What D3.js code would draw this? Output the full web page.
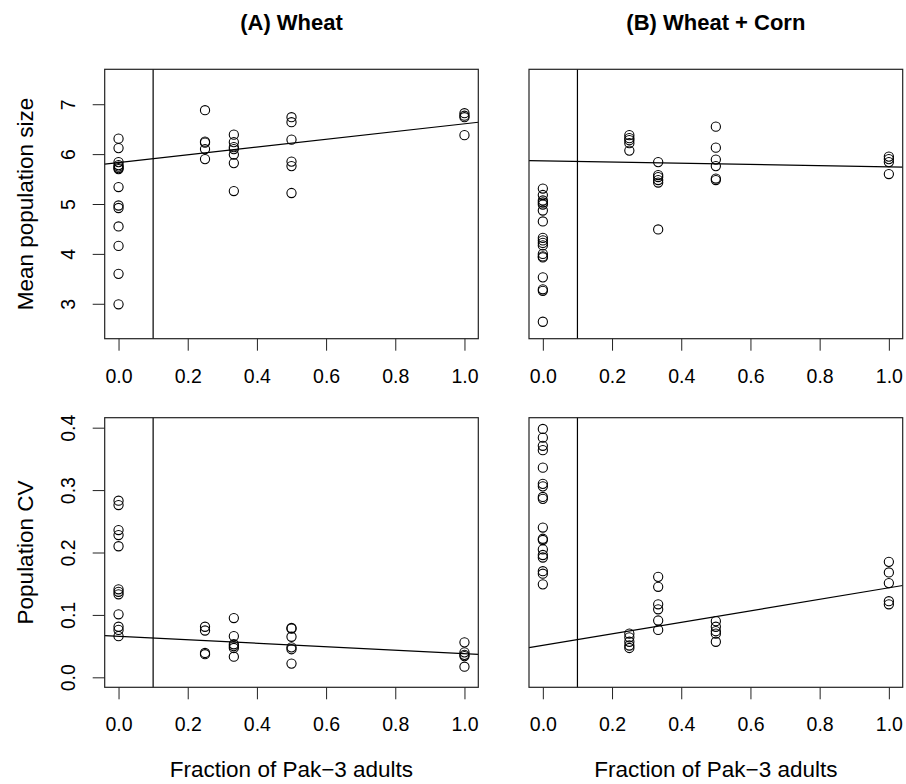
<!DOCTYPE html>
<html>
<head>
<meta charset="utf-8">
<script src="https://cdn.jsdelivr.net/npm/d3@7"></script>
<style>
  body { margin: 0; background: #fff; }
  svg { font-family: "Liberation Sans", Arial, sans-serif; }
</style>
</head>
<body>
<div id="container"></div>
<script>
/* DATA - doses on x, one nested array per panel (one inner array per dose) */
const doses = [0, 0.25, 1/3, 0.5, 1];

const wheatSize = [
  [6.31, 6.12, 5.84, 5.78, 5.75, 5.72, 5.70, 5.34, 4.97, 4.92, 4.55, 4.16, 3.60, 2.99],
  [6.88, 6.25, 6.23, 6.10, 5.90],
  [6.39, 6.24, 6.14, 6.10, 5.99, 5.82, 5.26],
  [6.74, 6.64, 6.29, 5.85, 5.76, 5.22],
  [6.82, 6.77, 6.74, 6.38]
];
const cornSize = [
  [5.31, 5.18, 5.07, 5.03, 4.99, 4.87, 4.65, 4.32, 4.27, 4.22, 4.17, 4.00, 3.95, 3.93, 3.53, 3.29, 3.26, 2.64],
  [6.38, 6.32, 6.28, 6.22, 6.07],
  [5.84, 5.58, 5.54, 5.48, 5.43, 4.49],
  [6.55, 6.13, 5.89, 5.76, 5.51, 5.48],
  [5.95, 5.90, 5.84, 5.60]
];
const wheatCV = [
  [0.283, 0.276, 0.236, 0.228, 0.210, 0.141, 0.137, 0.133, 0.101, 0.081, 0.076, 0.066],
  [0.081, 0.075, 0.039, 0.037],
  [0.095, 0.066, 0.053, 0.050, 0.047, 0.033],
  [0.079, 0.078, 0.065, 0.048, 0.045, 0.022],
  [0.056, 0.040, 0.036, 0.034, 0.017]
];
const cornCV = [
  [0.398, 0.384, 0.371, 0.364, 0.336, 0.310, 0.306, 0.289, 0.286, 0.240, 0.222, 0.220, 0.205, 0.196, 0.192, 0.170, 0.166, 0.149],
  [0.070, 0.064, 0.057, 0.051, 0.047],
  [0.161, 0.145, 0.117, 0.109, 0.091, 0.076],
  [0.090, 0.081, 0.074, 0.070, 0.057],
  [0.185, 0.168, 0.151, 0.122, 0.117]
];

/* fitted lines: intercept and slope per panel (A size, B size, A CV, B CV) */
const fitIntercept = [5.83, 5.865, 0.0657, 0.0513];
const fitSlope = [0.778, -0.12, -0.0277, 0.0921];

const xTicks = [0, 0.2, 0.4, 0.6, 0.8, 1.0];
const sizeTicks = [3, 4, 5, 6, 7];
const cvTicks = [0, 0.1, 0.2, 0.3, 0.4];
const titles = ["(A) Wheat", "(B) Wheat + Corn"];
const cutoff = 0.1;

/* LAYOUT */
const width = 906, height = 784;
const cols = [[104.7, 478.3], [529, 902.7]];
const rows = [[69.3, 338.7], [417.7, 687.3]];
const tickFont = 19.5;

const svg = d3.select("#container").append("svg")
  .attr("width", width)
  .attr("height", height);

const panels = [
  { col: 0, row: 0, data: wheatSize, domain: [2.3, 7.7], ticks: sizeTicks, fmt: d3.format("d"), yaxis: true },
  { col: 1, row: 0, data: cornSize, domain: [2.3, 7.7], ticks: sizeTicks, fmt: d3.format("d"), yaxis: false },
  { col: 0, row: 1, data: wheatCV, domain: [-0.016, 0.416], ticks: cvTicks, fmt: d3.format(".1f"), yaxis: true },
  { col: 1, row: 1, data: cornCV, domain: [-0.016, 0.416], ticks: cvTicks, fmt: d3.format(".1f"), yaxis: false }
];

panels.forEach((p, i) => {
  const [x0, x1] = cols[p.col];
  const [y0, y1] = rows[p.row];

  const xScale = d3.scaleLinear().domain([-0.04, 1.04]).range([x0, x1]);
  const yScale = d3.scaleLinear().domain(p.domain).range([y1, y0]);

  const g = svg.append("g");

  /* x axis */
  const xAxis = g.append("g")
    .attr("transform", `translate(0,${y1})`)
    .call(d3.axisBottom(xScale).tickValues(xTicks).tickFormat(d3.format(".1f"))
      .tickSize(12).tickPadding(18));
  xAxis.select(".domain").remove();
  xAxis.selectAll("line").attr("stroke", "#222").attr("stroke-width", 1);
  xAxis.selectAll("text").attr("font-size", tickFont).attr("fill", "#000")
    .attr("font-family", "Liberation Sans, Arial, sans-serif");

  /* y axis, labels turned like base R */
  if (p.yaxis) {
    const yAxis = g.append("g")
      .attr("transform", `translate(${x0},0)`)
      .call(d3.axisLeft(yScale).tickValues(p.ticks).tickFormat(p.fmt).tickSize(12));
    yAxis.select(".domain").remove();
    yAxis.selectAll("line").attr("stroke", "#222").attr("stroke-width", 1);
    yAxis.selectAll("text")
      .attr("transform", "rotate(-90)")
      .attr("x", 0).attr("y", -30).attr("dy", 0)
      .attr("text-anchor", "middle")
      .attr("font-size", tickFont).attr("fill", "#000")
      .attr("font-family", "Liberation Sans, Arial, sans-serif");
  }

  /* cutoff line */
  g.append("line")
    .attr("x1", xScale(cutoff)).attr("x2", xScale(cutoff))
    .attr("y1", y0).attr("y2", y1)
    .attr("stroke", "#000").attr("stroke-width", 1.2);

  /* fitted line, clipped to the box like abline */
  g.append("line")
    .attr("x1", x0).attr("x2", x1)
    .attr("y1", yScale(fitIntercept[i] + fitSlope[i] * xScale.invert(x0)))
    .attr("y2", yScale(fitIntercept[i] + fitSlope[i] * xScale.invert(x1)))
    .attr("stroke", "#000").attr("stroke-width", 1.2);

  /* points */
  const pts = p.data.flatMap((vals, k) => vals.map(v => ({ x: doses[k], y: v })));
  g.selectAll(".pt")
    .data(pts)
    .join("circle")
    .attr("class", "pt")
    .attr("cx", d => xScale(d.x))
    .attr("cy", d => yScale(d.y))
    .attr("r", 4.6)
    .attr("fill", "none")
    .attr("stroke", "#000")
    .attr("stroke-width", 1.1);

  /* box */
  g.append("rect")
    .attr("x", x0).attr("y", y0)
    .attr("width", x1 - x0).attr("height", y1 - y0)
    .attr("fill", "none").attr("stroke", "#222").attr("stroke-width", 1.2);

  if (p.row === 0) {
    g.append("text")
      .attr("x", (x0 + x1) / 2).attr("y", 30)
      .attr("text-anchor", "middle")
      .attr("font-size", 22).attr("font-weight", "bold")
      .text(titles[p.col]);
  } else {
    g.append("text")
      .attr("x", (x0 + x1) / 2).attr("y", 777)
      .attr("text-anchor", "middle")
      .attr("font-size", 22.5)
      .text("Fraction of Pak\u22123 adults");
  }
});

/* y titles */
svg.append("text")
  .attr("transform", `translate(33,${(rows[0][0] + rows[0][1]) / 2}) rotate(-90)`)
  .attr("text-anchor", "middle")
  .attr("font-size", 22.5)
  .text("Mean population size");
svg.append("text")
  .attr("transform", `translate(33,${(rows[1][0] + rows[1][1]) / 2}) rotate(-90)`)
  .attr("text-anchor", "middle")
  .attr("font-size", 22.5)
  .text("Population CV");
</script>
</body>
</html>
